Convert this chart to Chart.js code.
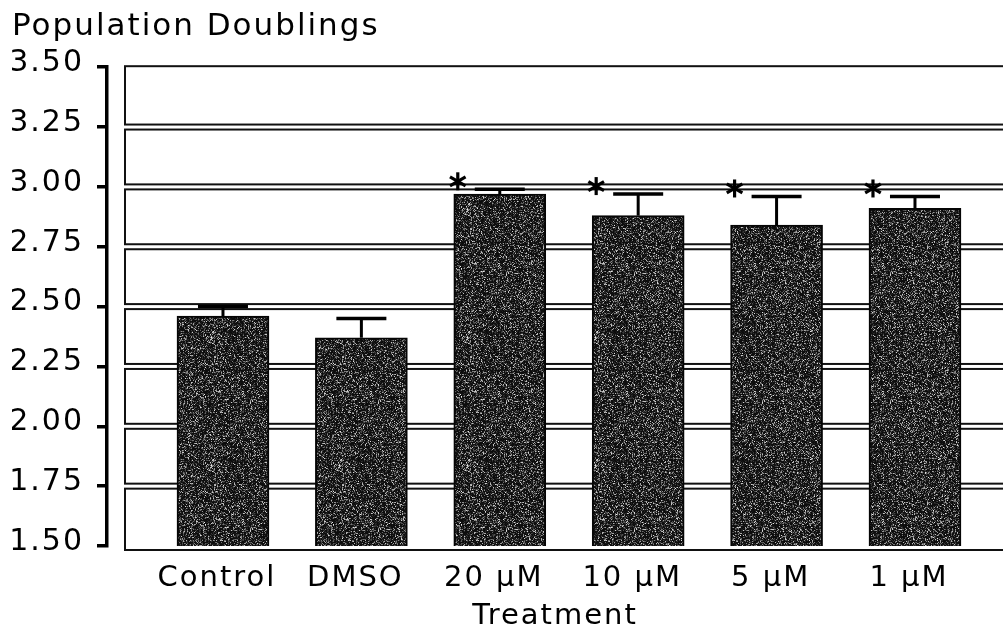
<!DOCTYPE html>
<html>
<head>
<meta charset="utf-8">
<script src="https://cdn.jsdelivr.net/npm/chart.js@4"></script>
<style>
  body { margin: 0; background: #fff; }
  #wrap { width: 1003px; height: 637px; }
</style>
</head>
<body>
<div id="wrap"><canvas id="pdChart"></canvas></div>
<script>
const categories = ["Control", "DMSO", "20 µM", "10 µM", "5 µM", "1 µM"];
const doublings = [2.46, 2.37, 2.97, 2.88, 2.84, 2.91];
const sem = [0.04, 0.08, 0.02, 0.09, 0.12, 0.05];
const significant = [false, false, true, true, true, true];
const yTicks = [1.5, 1.75, 2.0, 2.25, 2.5, 2.75, 3.0, 3.25, 3.5];

// grainy dark fill like the scanned bars
function speckle() {
  const c = document.createElement("canvas");
  c.width = c.height = 128;
  const g = c.getContext("2d");
  const img = g.createImageData(128, 128);
  for (let y = 0; y < 128; y++) {
    for (let x = 0; x < 128; x++) {
      const s = Math.sin(x * 12.9898 + y * 78.233) * 43758.5453;
      const h = s - Math.floor(s);
      const t = Math.sin(x * 3.71 + y * 17.13) * 9631.77;
      const h2 = t - Math.floor(t);
      const lo = 0.5 + 0.5 * h2;
      const v = Math.min(255, 12 + Math.pow(h, 4) * 230 * (0.4 + 0.6 * lo));
      const k = (y * 128 + x) * 4;
      img.data[k] = img.data[k + 1] = img.data[k + 2] = v;
      img.data[k + 3] = 255;
    }
  }
  g.putImageData(img, 0, 0);
  return g.createPattern(c, "repeat");
}

const spacing = {
  id: "spacing",
  beforeLayout(chart) { chart.ctx.letterSpacing = "2px"; },
  beforeDraw(chart) { chart.ctx.letterSpacing = "2px"; },
};

// boxed bands with doubled grid lines
const bands = {
  id: "bands",
  beforeDatasetsDraw(chart) {
    const { ctx, chartArea } = chart;
    const y = chart.scales.y;
    ctx.save();
    ctx.strokeStyle = "#111";
    ctx.lineWidth = 2;
    for (let i = 0; i < yTicks.length - 1; i++) {
      const lo = yTicks[i], hi = yTicks[i + 1];
      const top = y.getPixelForValue(hi) + (i === yTicks.length - 2 ? -1 : 2.5);
      const bot = y.getPixelForValue(lo) + (i === 0 ? 4 : -2.5);
      ctx.strokeRect(chartArea.left + 18, top, chart.width + 20, bot - top);
    }
    ctx.restore();
  },
};

const errorBars = {
  id: "errorBars",
  afterDatasetsDraw(chart) {
    const { ctx } = chart;
    const y = chart.scales.y;
    const meta = chart.getDatasetMeta(0);
    ctx.save();
    ctx.strokeStyle = "#000";
    ctx.lineCap = "butt";
    meta.data.forEach((bar, i) => {
      const top = y.getPixelForValue(doublings[i] + sem[i]);
      ctx.lineWidth = 3;
      ctx.beginPath();
      ctx.moveTo(bar.x, bar.y);
      ctx.lineTo(bar.x, top);
      ctx.stroke();
      ctx.lineWidth = 3.5;
      ctx.beginPath();
      ctx.moveTo(bar.x - 25, top);
      ctx.lineTo(bar.x + 25, top);
      ctx.stroke();
      if (significant[i]) {
        const cx = bar.x - bar.width / 2 + 4;
        const cy = top - 8;
        ctx.lineWidth = 3.2;
        for (let a = 0; a < 3; a++) {
          const ang = Math.PI / 2 + (a * Math.PI) / 3;
          ctx.beginPath();
          ctx.moveTo(cx + Math.cos(ang) * 9, cy + Math.sin(ang) * 9);
          ctx.lineTo(cx - Math.cos(ang) * 9, cy - Math.sin(ang) * 9);
          ctx.stroke();
        }
      }
    });
    ctx.restore();
  },
};

const font = "'DejaVu Sans', sans-serif";
const ctx = document.getElementById("pdChart").getContext("2d");
const pdChart = new Chart(ctx, {
  type: "bar",
  data: {
    datasets: [
      {
        data: categories.map((c, i) => ({ x: i, y: doublings[i] })),
        backgroundColor: speckle(),
        borderColor: "#050505",
        borderWidth: 2,
        barThickness: 92,
      },
    ],
  },
  options: {
    responsive: true,
    maintainAspectRatio: false,
    animation: false,
    layout: { padding: { left: 12, right: 0, top: 0, bottom: 0 } },
    plugins: {
      legend: { display: false },
      tooltip: { enabled: false },
      title: {
        display: true,
        text: "Population Doublings",
        align: "start",
        color: "#000",
        font: { family: font, size: 31, weight: "normal" },
        padding: { top: 8, bottom: 22 },
      },
    },
    scales: {
      x: {
        type: "linear",
        offset: false,
        min: -0.838,
        max: 5.636,
        grid: { display: false },
        border: { display: false },
        afterBuildTicks(scale) {
          scale.ticks = categories.map((c, i) => ({ value: i }));
        },
        afterFit(scale) { scale.height = 91; },
        ticks: {
          color: "#000",
          padding: 7,
          labelOffset: -6,
          maxRotation: 0,
          autoSkip: false,
          font: { family: font, size: 29 },
          callback: (v) => categories[v],
        },
        title: {
          display: true,
          text: "Treatment",
          color: "#000",
          font: { family: font, size: 29 },
          padding: { top: 0, bottom: 3 },
        },
      },
      y: {
        min: 1.5,
        max: 3.5,
        afterBuildTicks(scale) {
          scale.ticks = yTicks.map((v) => ({ value: v }));
        },
        afterFit(scale) { scale.width = 95; },
        border: { display: true, color: "#000", width: 3.5 },
        grid: {
          drawOnChartArea: false,
          drawTicks: true,
          tickLength: 10,
          lineWidth: 3.5,
          tickColor: "#000",
        },
        ticks: {
          color: "#000",
          padding: 13,
          labelOffset: -4,
          font: { family: font, size: 30 },
          callback: (v) => v.toFixed(2),
        },
      },
    },
  },
  plugins: [spacing, bands, errorBars],
});
</script>
</body>
</html>
